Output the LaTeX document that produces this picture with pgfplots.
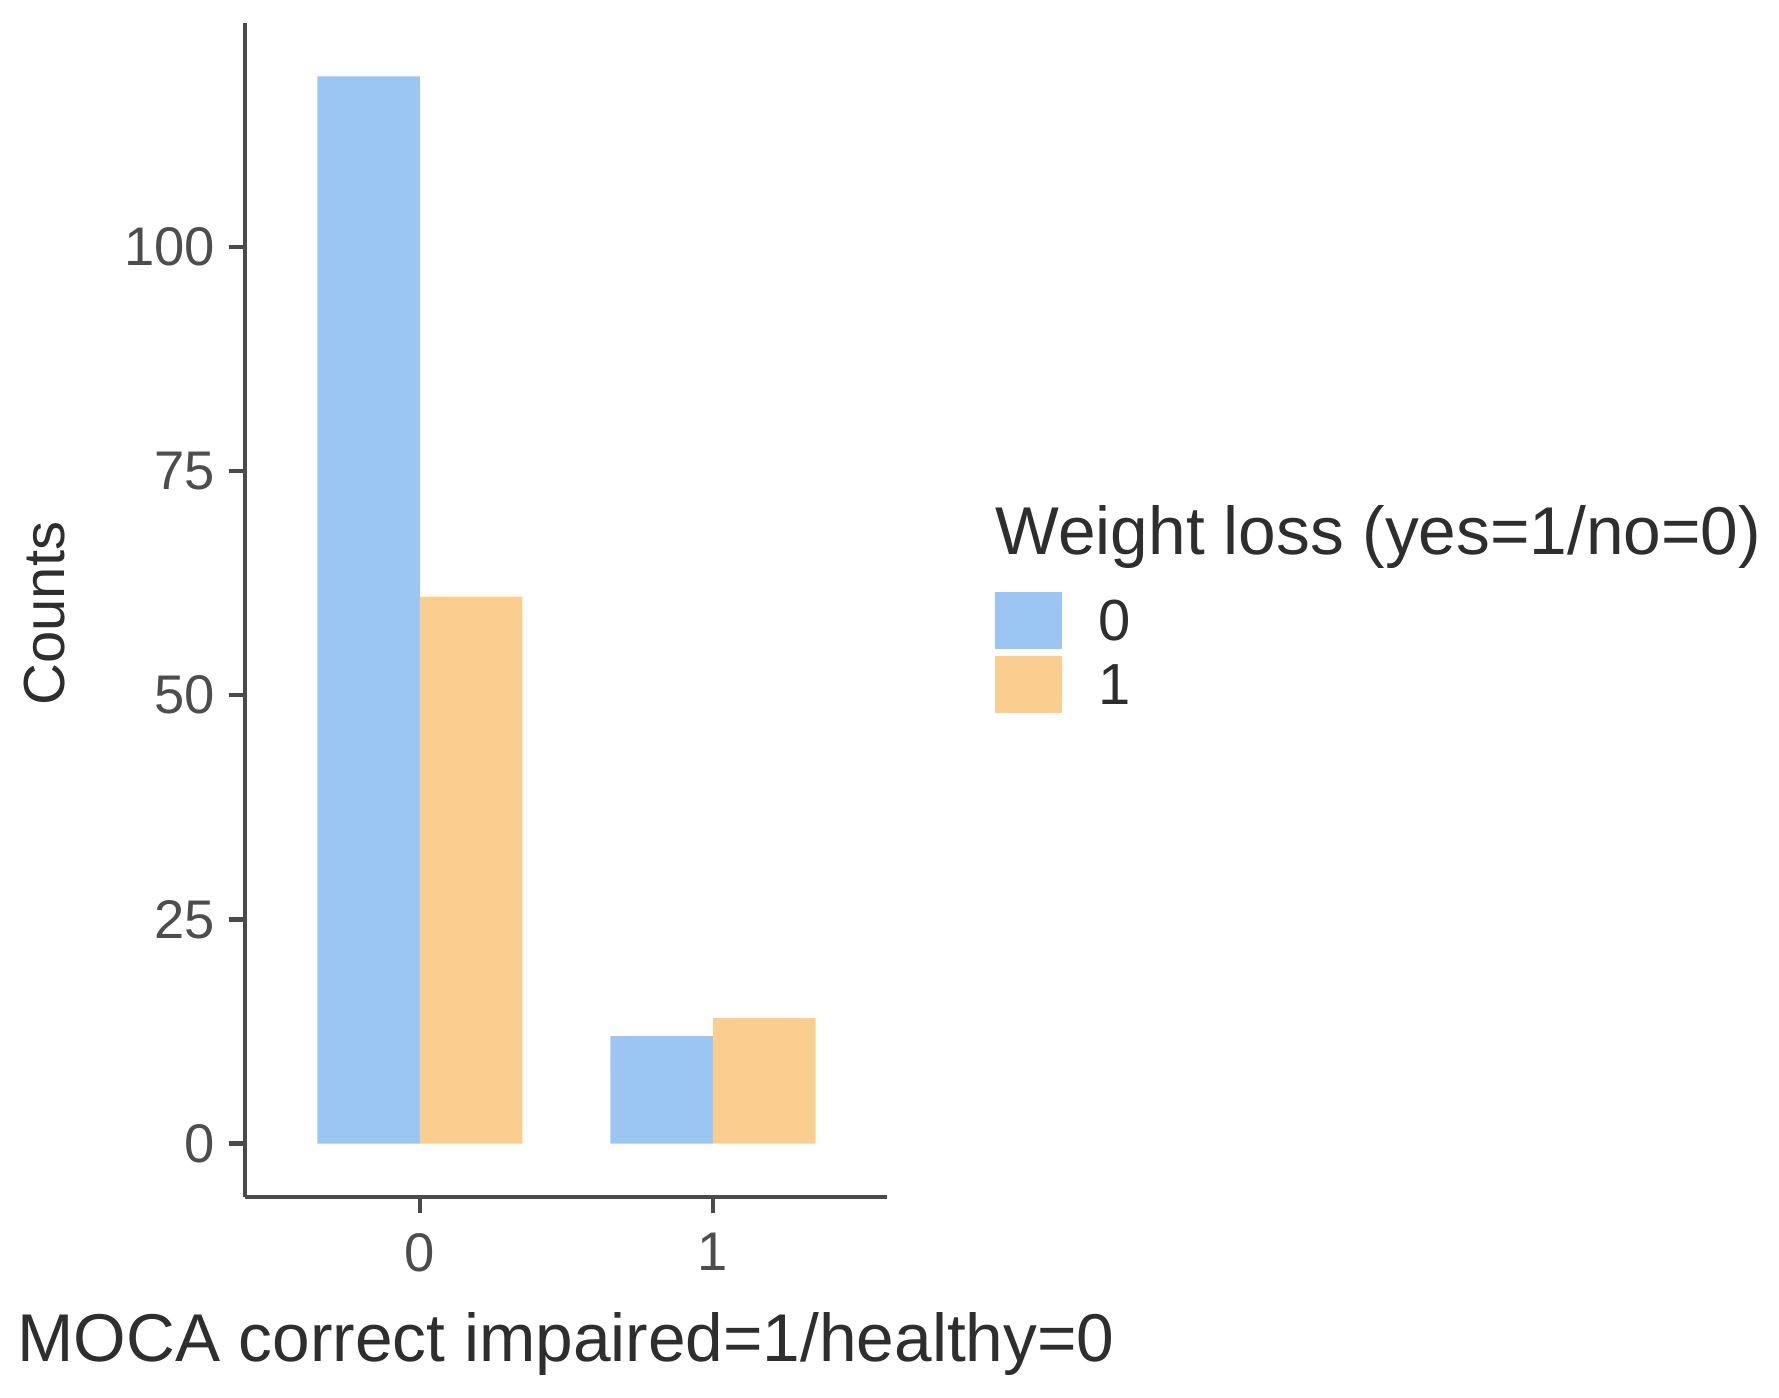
\documentclass[border=0pt]{standalone}
\usepackage{fontspec}
\setmainfont{Liberation Sans}
\usepackage{pgfplots}
\pgfplotsset{compat=1.18}
\definecolor{blu}{HTML}{9BC6F4}
\definecolor{org}{HTML}{FACE8E}
\definecolor{txt}{HTML}{4D4D4D}
\definecolor{axc}{HTML}{4A4A4A}
\begin{document}
\begin{tikzpicture}
\begin{axis}[
 name=ax, at={(0,0)}, anchor=south west,
 scale only axis, width=160.5pt, height=293.5pt,
 xmin=-0.597, xmax=1.594, ymin=-5.95, ymax=124.95,
 axis x line*=bottom, axis y line*=left,
 axis line style={axc, line width=1.1pt, -},
 xtick={0,1}, ytick={0,25,50,75,100},
 tick align=outside, major tick length=4pt,
 tick style={axc, line width=1.1pt},
 ticklabel style={font=\fontsize{13.6}{16}\selectfont, text=txt},
 xticklabel style={yshift=-1.5pt},
 /pgf/number format/assume math mode=true,
 every axis x label/.style={at={(axis description cs:0.5,-0.1405)}, anchor=base, font=\fontsize{16.9}{20}\selectfont, text=black!82},
 every axis y label/.style={at={(axis description cs:-0.3115,0.497)}, anchor=center, rotate=90, font=\fontsize{14.5}{17}\selectfont, text=black!82},
 xlabel={MOCA correct impaired=1/healthy=0},
 ylabel={Counts},
 ybar, bar width=0.35,
]
\addplot[fill=blu, draw=none, bar shift=-0.175] coordinates {(0,119) (1,12)};
\addplot[fill=org, draw=none, bar shift=0.175] coordinates {(0,61) (1,14)};
\end{axis}
\node[anchor=base west, inner sep=0pt, font=\fontsize{16.9}{20}\selectfont, text=black!82] at (187.5pt,160.75pt) {Weight loss (yes=1/no=0)};
\fill[blu] (187.5pt,137pt) rectangle (204.25pt,151.25pt);
\fill[org] (187.5pt,121pt) rectangle (204.25pt,135.25pt);
\node[anchor=west, inner sep=0pt, font=\fontsize{14.5}{17}\selectfont, text=black!82] at (213.25pt,144.1pt) {0};
\node[anchor=west, inner sep=0pt, font=\fontsize{14.5}{17}\selectfont, text=black!82] at (213.25pt,128.1pt) {1};
\pgfresetboundingbox
\useasboundingbox (-61.25pt,-50pt) rectangle (383.5pt,299.25pt);
\end{tikzpicture}
\end{document}
